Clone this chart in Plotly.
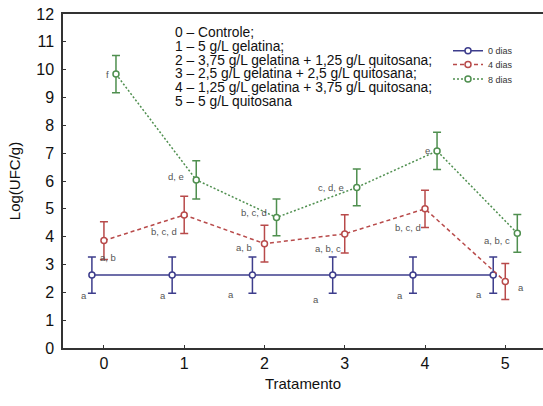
import plotly.graph_objects as go

tratamento = [0, 1, 2, 3, 4, 5]
series_names = ["0 dias", "4 dias", "8 dias"]
dia0_mean = [2.62, 2.62, 2.62, 2.62, 2.62, 2.62]
dia0_err = [0.65, 0.65, 0.65, 0.65, 0.65, 0.65]
dia4_mean = [3.86, 4.78, 3.75, 4.10, 5.00, 2.39]
dia4_err = [0.68, 0.67, 0.66, 0.69, 0.67, 0.65]
dia8_mean = [9.84, 6.04, 4.69, 5.77, 7.08, 4.12]
dia8_err = [0.67, 0.69, 0.66, 0.66, 0.67, 0.68]

dia0_letters = ["a", "a", "a", "a", "a", "a"]
dia4_letters = ["a, b", "b, c, d", "a, b", "a, b, c", "b, c, d", "a"]
dia8_letters = ["f", "d, e", "b, c, d", "c, d, e", "e", "a, b, c"]

legend_lines = [
    "0 – Controle;",
    "1 – 5 g/L gelatina;",
    "2 – 3,75 g/L gelatina + 1,25 g/L quitosana;",
    "3 – 2,5 g/L gelatina + 2,5 g/L quitosana;",
    "4 – 1,25 g/L gelatina + 3,75 g/L quitosana;",
    "5 – 5 g/L quitosana",
]

offsets = [-0.15, 0.0, 0.15]
colors = ["#3d3d8c", "#b84a4a", "#4f8f4f"]
dashes = ["solid", "4px,3px", "2px,2px"]
means = [dia0_mean, dia4_mean, dia8_mean]
errs = [dia0_err, dia4_err, dia8_err]
letters = [dia0_letters, dia4_letters, dia8_letters]
legends = ["legend", "legend2", "legend3"]

# pixel shifts of letter labels relative to each point
label_shift = [
    [(-8, -20), (-9, -20), (-21, -19), (-17, -24), (-13, -20), (-14, -19)],
    [(4, -17), (-20, -17), (-20, -4), (-17, -15), (-17, -19), (16, -6)],
    [(-8, 0), (-20, 3), (-23, 5), (-26, 0), (-10, 0), (-20, -7)],
]

fig = go.Figure()
for k in range(3):
    xs = [t + offsets[k] for t in tratamento]
    fig.add_trace(go.Scatter(
        x=xs, y=means[k], name=series_names[k], mode="lines+markers",
        line=dict(color=colors[k], width=1.5, dash=dashes[k]),
        marker=dict(symbol="circle", size=6, color="white",
                    line=dict(color=colors[k], width=1.5)),
        error_y=dict(type="data", array=errs[k], visible=True,
                     color=colors[k], thickness=1.5, width=4),
        legend=legends[k],
    ))
    for i, t in enumerate(xs):
        dx, dy = label_shift[k][i]
        fig.add_annotation(x=t, y=means[k][i], text=letters[k][i],
                           showarrow=False, xshift=dx, yshift=dy,
                           font=dict(size=9.5, color="#555555",
                                     family="Liberation Sans, Arial"))

# treatment description text block: one text, tight line spacing
block = "<br>".join(
    "<span style='font-size:13.8px'>" + s + "</span>" for s in legend_lines)
fig.add_annotation(xref="paper", yref="paper",
                   x=(174 - 63) / 480, y=(348 - 67) / 334,
                   xanchor="left", yanchor="middle", align="left",
                   text=block, showarrow=False, borderpad=0,
                   font=dict(size=10.6, color="#111111",
                             family="Liberation Sans, Arial"))

leg_y = [50.7, 64.5, 79]
legend_common = dict(x=(448 - 63) / 480, xanchor="left", yanchor="middle",
                     bgcolor="rgba(0,0,0,0)", itemwidth=30,
                     font=dict(size=9, color="#333333",
                               family="Liberation Sans, Arial"))
fig.update_layout(
    legend=dict(y=(348 - leg_y[0]) / 334, **legend_common),
    legend2=dict(y=(348 - leg_y[1]) / 334, **legend_common),
    legend3=dict(y=(348 - leg_y[2]) / 334, **legend_common),
)

fig.update_layout(
    width=543, height=406,
    margin=dict(l=63, r=0, t=14, b=58, autoexpand=False),
    paper_bgcolor="white", plot_bgcolor="white",
    showlegend=True,
    font=dict(family="Liberation Sans, Arial", color="#111111"),
)
fig.update_xaxes(
    automargin=False,
    range=[-0.51, 5.47], tickvals=tratamento,
    ticktext=[str(t) for t in tratamento],
    showgrid=False, zeroline=False,
    showline=True, linecolor="#333333", linewidth=1.5, mirror=True,
    ticks="inside", ticklen=3, tickcolor="#333333",
    tickfont=dict(size=16),
    title=dict(text="Tratamento", font=dict(size=15), standoff=8),
)
fig.update_yaxes(
    automargin=False,
    range=[0, 12], tickvals=list(range(0, 13)),
    showgrid=False, zeroline=False,
    showline=True, linecolor="#333333", linewidth=1.5, mirror=True,
    ticks="inside", ticklen=3, tickcolor="#333333",
    ticklabelstandoff=4,
    tickfont=dict(size=16),
    title=dict(text="Log(UFC/g)", font=dict(size=15), standoff=12),
)

fig.write_html("out.html", config={"displayModeBar": False},
               post_script="document.body.style.margin='0';document.body.style.overflow='hidden';")
